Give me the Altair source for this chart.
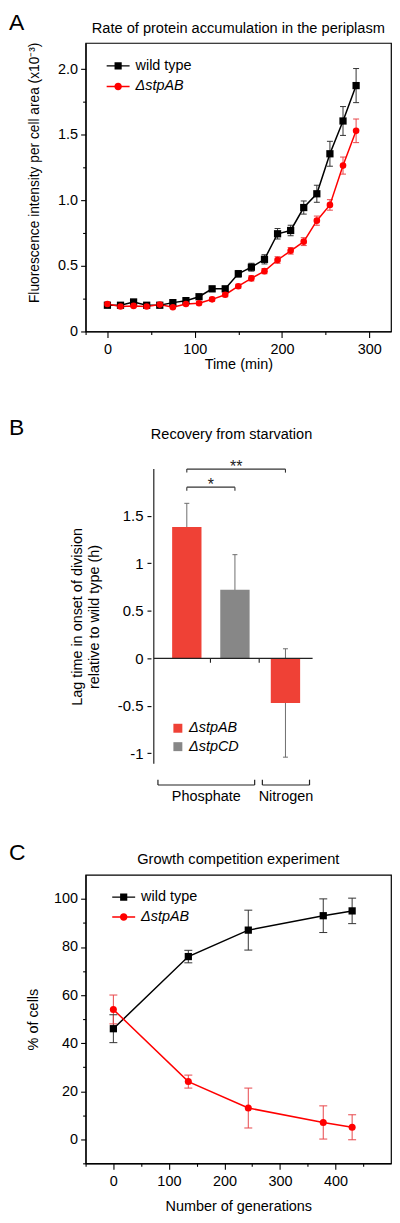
import altair as alt
import pandas as pd

FONT = "Liberation Sans"
FS = 14.5
SERIES = ["wild type", "ΔstpAB"]

# ---------------- Panel A: rate of protein accumulation ----------------
time_min = [0, 15, 30, 45, 60, 75, 90, 105, 120, 135, 150, 165, 180, 195, 210, 225, 240, 255, 270, 285]
wt_A = [0.20, 0.20, 0.225, 0.20, 0.20, 0.22, 0.235, 0.265, 0.325, 0.325, 0.44, 0.49, 0.55, 0.745,
        0.77, 0.945, 1.05, 1.355, 1.605, 1.875]
wt_A_err = [0.01, 0.01, 0.012, 0.01, 0.01, 0.012, 0.012, 0.015, 0.02, 0.02, 0.025, 0.03, 0.035, 0.04,
            0.04, 0.05, 0.065, 0.095, 0.11, 0.13]
ab_A = [0.21, 0.19, 0.195, 0.19, 0.205, 0.185, 0.21, 0.215, 0.245, 0.28, 0.345, 0.405, 0.46, 0.545,
        0.615, 0.685, 0.845, 0.965, 1.265, 1.53]
ab_A_err = [0.01, 0.01, 0.01, 0.01, 0.01, 0.01, 0.01, 0.012, 0.015, 0.015, 0.015, 0.02, 0.02, 0.025,
            0.025, 0.03, 0.035, 0.04, 0.065, 0.09]

# ---------------- Panel B: recovery from starvation ----------------
b_strain = ["ΔstpAB", "ΔstpCD", "ΔstpAB"]
b_nutrient = ["Phosphate", "Phosphate", "Nitrogen"]
b_slot = [1, 2, 3.05]
b_lag = [1.38, 0.72, -0.47]
b_err = [0.25, 0.37, 0.57]
sig_from = [1, 1]
sig_to = [2, 3.05]
sig_y = [1.80, 1.99]
sig_label = ["*", "**"]
grp_from = [0.40, 2.57]
grp_to = [2.41, 3.55]
grp_label = ["Phosphate", "Nitrogen"]

# ---------------- Panel C: growth competition ----------------
generations = [0, 135, 243, 378, 430]
wt_C = [46, 76, 87, 93, 95]
wt_C_err = [5.8, 2.6, 8.3, 7.0, 5.3]
ab_C = [54, 24, 13, 7, 5]
ab_C_err = [6.0, 2.7, 8.3, 6.9, 5.2]

RED = "#ff0000"
RED_ERR = "#e8474b"
BLACK = "#000000"
BLACK_ERR = "#333333"
RED_B = "#ef4136"
GREY_B = "#878787"
ERR_B = "#6e6e6e"

PATH_SQ = "M-1.44,-0.09H1.44V0.09H-1.44Z M-0.45,-0.45H0.45V0.45H-0.45Z"
PATH_CI = ("M-1.44,-0.09H1.44V0.09H-1.44Z "
           "M0.47,0A0.47,0.47,0,1,1,-0.47,0A0.47,0.47,0,1,1,0.47,0Z")


def label(text, x, y, size=FS, align="center", baseline="middle"):
    return alt.Chart(pd.DataFrame({"s": [text]})).mark_text(
        font=FONT, fontSize=size, align=align, baseline=baseline, color="black"
    ).encode(text="s:N", x=alt.value(x), y=alt.value(y))


def line_panel(xv, wt, wt_err, ab, ab_err, xdom, ydom, xmajor, xminor, ymajor, yminor,
               ylab_expr, xtitle, xtitle_pad, ytitle, ytitle_pad, ytitle_size, ytitle_y,
               title, title_y, letter, letter_y,
               leg_x, leg_y, leg_gap, cap_w, sq_size, ci_size, W, H):
    n = len(xv)
    df = pd.DataFrame({
        "x": list(xv) * 2,
        "v": list(wt) + list(ab),
        "e": list(wt_err) + list(ab_err),
        "series": [SERIES[0]] * n + [SERIES[1]] * n,
    })
    df["lo"] = df["v"] - df["e"]
    df["hi"] = df["v"] + df["e"]
    xs = alt.Scale(domain=xdom, nice=False, zero=False)
    ys = alt.Scale(domain=ydom, nice=False, zero=False)
    cscale = alt.Scale(domain=SERIES, range=[BLACK, RED])
    escale = alt.Scale(domain=SERIES, range=[BLACK_ERR, RED_ERR])
    base = alt.Chart(df)

    x_axis = alt.Axis(values=xmajor, format="d", tickSize=6, labelPadding=5.5, title=xtitle,
                      titlePadding=xtitle_pad, grid=False)
    yaxis_kw = dict(values=ymajor, tickSize=5, labelPadding=3, title=ytitle,
                    titlePadding=ytitle_pad, titleFontSize=ytitle_size, grid=False)
    if ylab_expr:
        yaxis_kw["labelExpr"] = ylab_expr
    if ytitle_y is not None:
        yaxis_kw["titleY"] = ytitle_y
    y_axis = alt.Axis(**yaxis_kw)

    def X(f="x"):
        return alt.X(f + ":Q", scale=xs, axis=x_axis)

    def Y(f):
        return alt.Y(f + ":Q", scale=ys, axis=y_axis)

    estroke = alt.Stroke("series:N", scale=escale, legend=None)

    err = base.mark_rule(strokeWidth=1).encode(x=X(), y=Y("lo"), y2="hi:Q", stroke=estroke)
    cap_lo = base.mark_rule(strokeWidth=1, xOffset=-cap_w / 2, x2Offset=cap_w / 2).encode(
        x=X(), x2="x:Q", y=Y("lo"), stroke=estroke)
    cap_hi = base.mark_rule(strokeWidth=1, xOffset=-cap_w / 2, x2Offset=cap_w / 2).encode(
        x=X(), x2="x:Q", y=Y("hi"), stroke=estroke)
    line = base.mark_line(strokeWidth=1.5).encode(
        x=X(), y=Y("v"), color=alt.Color("series:N", scale=cscale, legend=None))
    sq = base.transform_filter(alt.datum.series == SERIES[0]).mark_point(
        shape="square", filled=True, size=sq_size, color=BLACK, opacity=1
    ).encode(x=X(), y=Y("v"))
    ci = base.transform_filter(alt.datum.series == SERIES[1]).mark_point(
        shape="circle", filled=True, size=ci_size, color=RED, opacity=1
    ).encode(x=X(), y=Y("v"))

    leg_common = dict(orient="none", legendX=leg_x, padding=0, title=None, symbolSize=256,
                      symbolStrokeWidth=0, labelFont=FONT, labelFontSize=FS,
                      labelColor="black", labelOffset=9.5)
    leg1 = base.transform_filter("false").mark_point(filled=True, color=BLACK, opacity=1).encode(
        shape=alt.Shape("series:N", scale=alt.Scale(domain=[SERIES[0]], range=[PATH_SQ]),
                        legend=alt.Legend(legendY=leg_y, **leg_common)))
    leg2 = base.transform_filter("false").mark_point(filled=True, opacity=1).encode(
        fill=alt.Fill("series:N", scale=alt.Scale(domain=[SERIES[1]], range=[RED]),
                      legend=alt.Legend(legendY=leg_y + leg_gap, symbolType=PATH_CI,
                                        labelFontStyle="italic", **leg_common)))

    minor = base.mark_point(opacity=0).encode(
        x=alt.X("x:Q", scale=xs, axis=alt.Axis(values=xminor, labels=False, domain=False,
                                               tickSize=3, title="", orient="bottom",
                                               grid=False)),
        y=alt.Y("v:Q", scale=ys, axis=alt.Axis(values=yminor, labels=False, domain=False,
                                               tickSize=3, title="", orient="left",
                                               grid=False)),
    )
    t_title = label(title, W / 2, title_y, size=14.7)
    t_letter = label(letter, -77, letter_y, size=23, align="left")
    main = alt.layer(err, cap_lo, cap_hi, line, sq, ci, leg1, leg2, t_title, t_letter)
    return alt.layer(main, minor).resolve_axis(x="independent", y="independent").properties(
        width=W, height=H)


W = 307
H_A = 290
H_B = 323
H_C = 290

panel_A = line_panel(
    time_min, wt_A, wt_A_err, ab_A, ab_A_err,
    xdom=[-25, 325], ydom=[0, 2.2],
    xmajor=[0, 100, 200, 300], xminor=[-25, 50, 150, 250],
    ymajor=[0, 0.5, 1.0, 1.5, 2.0], yminor=[0.25, 0.75, 1.25, 1.75],
    ylab_expr="datum.value == 0 ? '0' : format(datum.value, '.1f')",
    xtitle="Time (min)", xtitle_pad=1,
    ytitle="Fluorescence intensity per cell area (x10⁻³)", ytitle_pad=16, ytitle_size=13.8,
    ytitle_y=130,
    title="Rate of protein accumulation in the periplasm", title_y=-14, letter="A", letter_y=-20,
    leg_x=24.7, leg_y=15, leg_gap=20.7, cap_w=6, sq_size=53, ci_size=44, W=W, H=H_A)

panel_C = line_panel(
    generations, wt_C, wt_C_err, ab_C, ab_C_err,
    xdom=[-50, 500], ydom=[-10, 110],
    xmajor=[0, 100, 200, 300, 400], xminor=[-50, 50, 150, 250, 350, 450],
    ymajor=[0, 20, 40, 60, 80, 100], yminor=[-10, 10, 30, 50, 70, 90],
    ylab_expr=None,
    xtitle="Number of generations", xtitle_pad=11.5,
    ytitle="% of cells", ytitle_pad=13, ytitle_size=FS, ytitle_y=None,
    title="Growth competition experiment", title_y=-15, letter="C", letter_y=-21.5,
    leg_x=30.3, leg_y=14.4, leg_gap=20, cap_w=8, sq_size=53, ci_size=50, W=W, H=H_C)

# ---------------- Panel B build ----------------
BX_DOM = [-1.0, 5.14]
BY_DOM = [-1.11, 2.27]
AXIS_X = 0.314       # position of the drawn y axis (data units)
AXIS_TOP = 1.99
ZERO_END = 3.614
bxs = alt.Scale(domain=BX_DOM, nice=False, zero=False)
bys = alt.Scale(domain=BY_DOM, nice=False, zero=False)
zero_off = -H_B * (0 - BY_DOM[0]) / (BY_DOM[1] - BY_DOM[0])
yaxis_off = -W * (AXIS_X - BX_DOM[0]) / (BX_DOM[1] - BX_DOM[0])

bx_axis = alt.Axis(values=[1.48, 2.49], labels=False, domain=False, tickSize=4,
                   tickColor="#222222", title="", offset=zero_off, grid=False)
by_axis = alt.Axis(
    values=[-1, -0.5, 0, 0.5, 1, 1.5], labelExpr="'' + datum.value", domain=False,
    tickSize=4, labelPadding=4, offset=yaxis_off, labelFontSize=15,
    title=["Lag time in onset of division", "relative to wild type (h)"],
    titlePadding=16, titleLineHeight=17,
    titleY=H_B * (BY_DOM[1] - (AXIS_TOP + BY_DOM[0]) / 2) / (BY_DOM[1] - BY_DOM[0]),
    grid=False)


def BX(f):
    return alt.X(f + ":Q", scale=bxs, axis=bx_axis)


def BY(f):
    return alt.Y(f + ":Q", scale=bys, axis=by_axis)


dfB = pd.DataFrame({"slot": b_slot, "lag": b_lag, "err": b_err,
                    "strain": b_strain, "nutrient": b_nutrient})
dfB["lo"] = dfB["lag"] - dfB["err"]
dfB["hi"] = dfB["lag"] + dfB["err"]
dfB["zero"] = 0.0
bB = alt.Chart(dfB)

b_err_rule = bB.mark_rule(strokeWidth=1, color=ERR_B).encode(x=BX("slot"), y=BY("lo"), y2="hi:Q")
b_cap_lo = bB.mark_rule(strokeWidth=1, color=ERR_B, xOffset=-2.5, x2Offset=2.5).encode(
    x=BX("slot"), x2="slot:Q", y=BY("lo"))
b_cap_hi = bB.mark_rule(strokeWidth=1, color=ERR_B, xOffset=-2.5, x2Offset=2.5).encode(
    x=BX("slot"), x2="slot:Q", y=BY("hi"))

bars = bB.mark_bar(size=29.5).encode(
    x=BX("slot"), y=BY("lag"), y2="zero:Q",
    color=alt.Color("strain:N", scale=alt.Scale(domain=["ΔstpAB", "ΔstpCD"], range=[RED_B, GREY_B]),
                    legend=alt.Legend(orient="none", legendX=85.5, legendY=280, padding=0,
                                      title=None, symbolType="square", symbolSize=81,
                                      symbolStrokeWidth=0, labelFontStyle="italic",
                                      labelFont=FONT, labelFontSize=14.5, labelColor="black",
                                      labelOffset=4, rowPadding=3.5)),
)

axis_df = pd.DataFrame({"x": [AXIS_X], "y1": [BY_DOM[0]], "y2": [AXIS_TOP], "xe": [ZERO_END], "z": [0.0]})
b_axis_line = alt.Chart(axis_df).mark_rule(strokeWidth=1.2, color="#222222").encode(
    x=BX("x"), y=BY("y1"), y2="y2:Q")
b_zero_line = alt.Chart(axis_df).mark_rule(strokeWidth=1.2, color="#222222").encode(
    x=BX("x"), x2="xe:Q", y=BY("z"))

sig_df = pd.DataFrame({"x1": sig_from, "x2": sig_to, "y": sig_y, "lab": sig_label})
sig_df["yt"] = sig_df["y"] - 0.037
sig_df["xm"] = (sig_df["x1"] + sig_df["x2"]) / 2
sB = alt.Chart(sig_df)
sig_h = sB.mark_rule(strokeWidth=1.1, color="#333333").encode(x=BX("x1"), x2="x2:Q", y=BY("y"))
sig_l = sB.mark_rule(strokeWidth=1.1, color="#333333").encode(x=BX("x1"), y=BY("y"), y2="yt:Q")
sig_r = sB.mark_rule(strokeWidth=1.1, color="#333333").encode(x=BX("x2"), y=BY("y"), y2="yt:Q")
sig_t = sB.mark_text(font=FONT, fontSize=16, baseline="middle", dy=-2, color="#222222").encode(
    x=BX("xm"), y=BY("y"), text="lab:N")

GRP_Y = -1.333
grp_df = pd.DataFrame({"x1": grp_from, "x2": grp_to, "lab": grp_label})
grp_df["y"] = GRP_Y
grp_df["yt"] = GRP_Y + 0.056
grp_df["ylab"] = GRP_Y - 0.122
grp_df["xm"] = (grp_df["x1"] + grp_df["x2"]) / 2
gB = alt.Chart(grp_df)
grp_h = gB.mark_rule(strokeWidth=1.2, color="#222222").encode(x=BX("x1"), x2="x2:Q", y=BY("y"))
grp_l = gB.mark_rule(strokeWidth=1.2, color="#222222").encode(x=BX("x1"), y=BY("y"), y2="yt:Q")
grp_r = gB.mark_rule(strokeWidth=1.2, color="#222222").encode(x=BX("x2"), y=BY("y"), y2="yt:Q")
grp_t = gB.mark_text(font=FONT, fontSize=14.5, baseline="middle", color="black").encode(
    x=BX("xm"), y=BY("ylab"), text="lab:N")

b_title = label("Recovery from starvation", 146.7, -7.3, size=14.6)
b_letter = label("B", -77, -14.8, size=23, align="left")

panel_B = alt.layer(
    b_err_rule, b_cap_lo, b_cap_hi, bars, b_axis_line, b_zero_line,
    sig_h, sig_l, sig_r, sig_t, grp_h, grp_l, grp_r, grp_t, b_title, b_letter
).properties(width=W, height=H_B, view=alt.ViewBackground(stroke="transparent"))

chart = alt.vconcat(panel_A, panel_B, panel_C, spacing=111.6, bounds="flush").resolve_scale(
    color="independent", fill="independent", shape="independent", stroke="independent"
).properties(
    padding=0
).configure_view(
    stroke="black", strokeWidth=1.2
).configure_axis(
    labelFont=FONT, labelFontSize=FS, titleFont=FONT, titleFontSize=FS,
    titleFontWeight="normal", labelColor="black", titleColor="black",
    tickColor="black", domainColor="black", domainWidth=1.2, tickWidth=1.1
).configure_legend(
    labelFont=FONT, labelFontSize=FS, labelColor="black"
)

chart.save("out.html", embed_options={"renderer": "svg", "actions": False})
